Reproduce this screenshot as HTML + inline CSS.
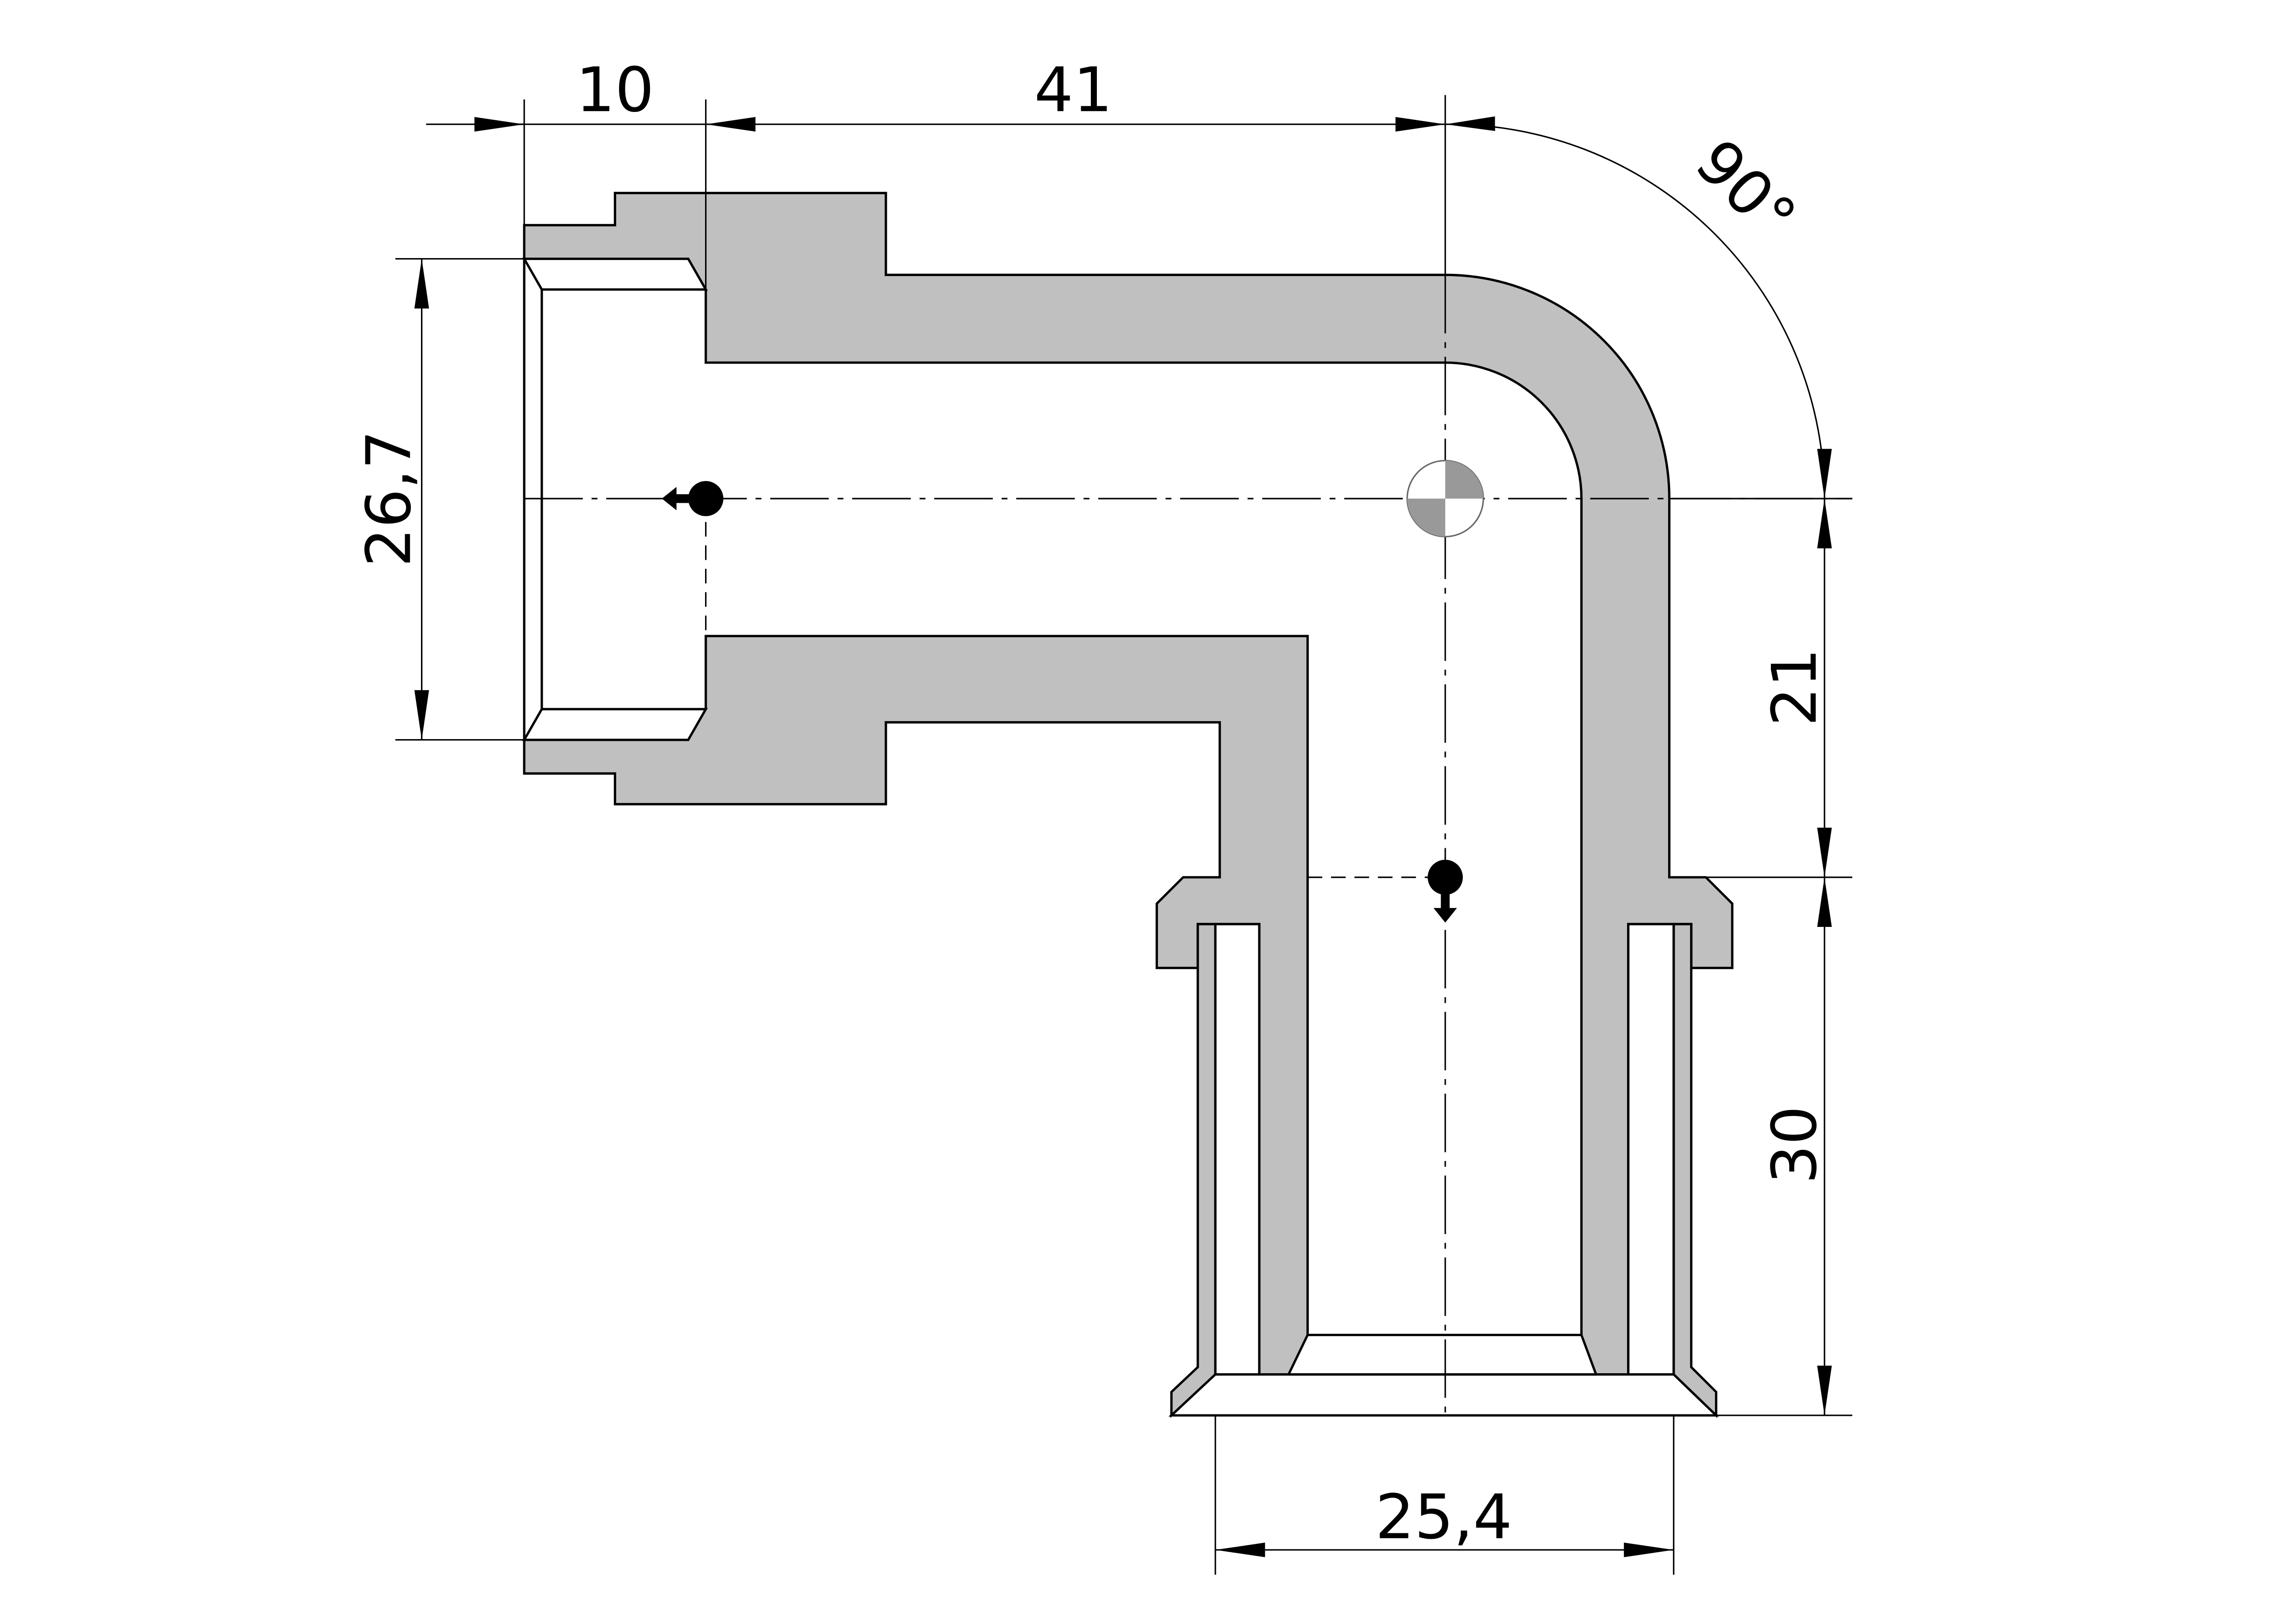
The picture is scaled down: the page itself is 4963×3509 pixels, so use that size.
<!DOCTYPE html>
<html><head><meta charset="utf-8"><style>
html,body{margin:0;padding:0;background:#fff;}
svg{display:block;}
text{font-family:"DejaVu Sans","Liberation Sans",sans-serif;font-size:42px;fill:#000;}
</style></head><body>
<svg width="4963" height="3509" viewBox="0 0 1568 1110" preserveAspectRatio="none" xmlns="http://www.w3.org/2000/svg">
<defs>
<marker id="a" viewBox="0 0 34 10" refX="34" refY="5" markerWidth="34" markerHeight="10" markerUnits="userSpaceOnUse" orient="auto-start-reverse"><path d="M0,0 L34,5 L0,10 Z" fill="#000"/></marker>
</defs>
<g stroke="#000" stroke-width="1.6" stroke-linejoin="miter">
<path fill="#c0c0c0" d="M358,154 L420,154 L420,132 L605,132 L605,188 L987,188 A153,153 0 0 1 1140,341 L1140,600 L1165,600 L1183,618 L1183,662 L1155,662 L1155,632 L1112,632 L1112,940 L1090,940 L1080,913 L1080,341 A93,93 0 0 0 987,248 L482,248 L482,198 L470,177 L358,177 Z"/>
<path fill="#c0c0c0" d="M358,529 L420,529 L420,550 L605,550 L605,494 L833,494 L833,600 L808,600 L790,618 L790,662 L818,662 L818,632 L860,632 L860,940 L880,940 L893,913 L893,435 L482,435 L482,485 L470,506 L358,506 Z"/>
<path fill="#fff" d="M358,177 L470,177 L482,198 L370,198 Z"/>
<path fill="#fff" d="M370,485 L482,485 L470,506 L358,506 Z"/>
<path fill="none" d="M370,198 L370,485 M358,177 L358,506"/>
<path fill="#c0c0c0" d="M818,632 L830,632 L830,940 L800,968 L800,952 L818,935 Z"/>
<path fill="#c0c0c0" d="M1143,632 L1155,632 L1155,935 L1172,952 L1172,968 L1143,940 Z"/>
<path fill="#fff" d="M830,632 L860,632 L860,940 L830,940 Z"/>
<path fill="#fff" d="M1112,632 L1143,632 L1143,940 L1112,940 Z"/>
<path fill="#fff" d="M800,968 L830,940 L1143,940 L1172,968 Z"/>
<path fill="none" d="M893,913 L1080,913 M880,940 L1090,940"/>
</g>
<g stroke="#000" stroke-width="1" fill="none">
<path d="M358,68 L358,154 M482,68 L482,248 M987,65 L987,188 M291,85 L358,85"/>
<path d="M270,177 L358,177 M270,506 L358,506"/>
<path d="M1140,341 L1265,341 M1140,600 L1265,600 M1172,968 L1265,968"/>
<path d="M830,968 L830,1077 M1143,968 L1143,1077"/>
<path d="M358,341 L1265,341" stroke-dasharray="40,6,4,6"/>
<path d="M987,188 L987,968" stroke-dasharray="40,6,4,6"/>
<path d="M482,341 L482,435" stroke-dasharray="10,6"/>
<path d="M893,600 L987,600" stroke-dasharray="10,6"/>
<line x1="325" y1="85" x2="358" y2="85" marker-end="url(#a)"/>
<line x1="358" y1="85" x2="482" y2="85"/>
<line x1="482" y1="85" x2="987" y2="85" marker-start="url(#a)" marker-end="url(#a)"/>
<path d="M987,85 A256,256 0 0 1 1246,341" marker-start="url(#a)" marker-end="url(#a)"/>
<line x1="288" y1="177" x2="288" y2="506" marker-start="url(#a)" marker-end="url(#a)"/>
<line x1="1246" y1="341" x2="1246" y2="600" marker-start="url(#a)" marker-end="url(#a)"/>
<line x1="1246" y1="600" x2="1246" y2="968" marker-start="url(#a)" marker-end="url(#a)"/>
<line x1="830" y1="1060" x2="1143" y2="1060" marker-start="url(#a)" marker-end="url(#a)"/>
</g>
<circle cx="987" cy="341" r="26" fill="#fff" stroke="#666" stroke-width="1"/>
<path d="M987,341 L987,315 A26,26 0 0 1 1013,341 Z" fill="#999"/>
<path d="M987,341 L987,367 A26,26 0 0 1 961,341 Z" fill="#999"/>
<circle cx="482" cy="341" r="12" fill="#000"/>
<path d="M452,341 L462,333 L462,338 L472,338 L472,344 L462,344 L462,349 Z" fill="#000"/>
<circle cx="987" cy="600" r="12" fill="#000"/>
<path d="M987,631 L979,621 L984,621 L984,610 L990,610 L990,621 L995,621 Z" fill="#000"/>
<text x="420" y="76" text-anchor="middle">10</text>
<text x="733" y="76" text-anchor="middle">41</text>
<text x="0" y="0" text-anchor="middle" transform="translate(1182,140) rotate(45)">90°</text>
<text x="0" y="0" text-anchor="middle" transform="translate(280,341) rotate(-90)">26,7</text>
<text x="0" y="0" text-anchor="middle" transform="translate(1240,470) rotate(-90)">21</text>
<text x="0" y="0" text-anchor="middle" transform="translate(1240,783) rotate(-90)">30</text>
<text x="986" y="1052" text-anchor="middle">25,4</text>
</svg>
</body></html>
